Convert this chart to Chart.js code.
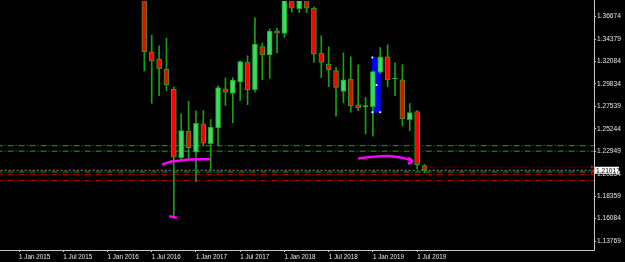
<!DOCTYPE html>
<html>
<head>
<meta charset="utf-8">
<script src="https://cdn.jsdelivr.net/npm/chart.js@4/dist/chart.umd.min.js"></script>
<style>
  html, body { margin: 0; padding: 0; background: #000; }
  canvas { display: block; }
</style>
</head>
<body>
<canvas id="candleChart" width="625" height="262"></canvas>
<script>
// monthly candles, GBPUSD-like
var months = ['2016-06','2016-07','2016-08','2016-09','2016-10','2016-11','2016-12',
  '2017-01','2017-02','2017-03','2017-04','2017-05','2017-06','2017-07','2017-08','2017-09','2017-10','2017-11','2017-12',
  '2018-01','2018-02','2018-03','2018-04','2018-05','2018-06','2018-07','2018-08','2018-09','2018-10','2018-11','2018-12',
  '2019-01','2019-02','2019-03','2019-04','2019-05','2019-06','2019-07','2019-08'];
var opens  = [1.4480,1.3309,1.3235,1.3133,1.2925,1.2229,1.2500,
  1.2285,1.2575,1.2372,1.2534,1.2930,1.2886,1.3001,1.3204,1.2923,1.3363,1.3278,1.3522,
  1.3495,1.4189,1.3749,1.4025,1.3755,1.3295,1.3184,1.3116,1.2906,1.3031,1.2767,1.2750,
  1.2750,1.3100,1.3258,1.3031,1.3024,1.2618,1.2700,1.2148];
var highs  = [1.5018,1.3478,1.3370,1.3448,1.2950,1.2676,1.2804,
  1.2706,1.2710,1.2619,1.2963,1.3042,1.3044,1.3216,1.3268,1.3654,1.3397,1.3542,1.3549,
  1.4345,1.4200,1.4245,1.4377,1.3768,1.3471,1.3360,1.3150,1.3298,1.3258,1.3176,1.2845,
  1.3115,1.3352,1.3380,1.3197,1.3177,1.2781,1.2710,1.2161];
var lows   = [1.3113,1.2784,1.2862,1.2913,1.1634,1.2200,1.2210,
  1.1986,1.2345,1.2101,1.2353,1.2761,1.2585,1.2811,1.2770,1.2896,1.3025,1.3038,1.3296,
  1.3454,1.3715,1.3708,1.3708,1.3200,1.3045,1.2953,1.2652,1.2788,1.2693,1.2709,1.2473,
  1.2449,1.3085,1.2953,1.2862,1.2554,1.2504,1.2118,1.2077];
var closes = [1.3309,1.3214,1.3133,1.2971,1.2236,1.2507,1.2331,
  1.2580,1.2378,1.2541,1.2943,1.2896,1.3021,1.3210,1.2923,1.3387,1.3278,1.3519,1.3498,
  1.4189,1.3752,1.4025,1.3752,1.3285,1.3200,1.3123,1.2946,1.3024,1.2757,1.2737,1.2756,
  1.3106,1.3258,1.3021,1.3040,1.2625,1.2689,1.2158,1.2101];

var xTickLabels = ['1 Jan 2015','1 Jul 2015','1 Jan 2016','1 Jul 2016','1 Jan 2017',
  '1 Jul 2017','1 Jan 2018','1 Jul 2018','1 Jan 2019','1 Jul 2019'];
var yTicks = [1.36674,1.34379,1.32084,1.29834,1.27539,1.25244,1.22949,1.20654,1.18359,1.16084,1.13769];

var bidPrice = 1.21017;
var greenLevels = [1.2352, 1.2296, 1.2084];
var redLevels = [1.2060, 1.1996];
var orderLevel = 1.2134;

// blue rectangle object (month, low, high) and hand drawn magenta marks (month, price)
var boxMonth = 48.47;
var boxRange = [1.2693, 1.3251];
var boxHandles = [[47.93,1.3251],[48.5,1.2971],[49.0,1.2693],[47.93,1.2693]];
var markA = [[19.4,1.2159],[20.4,1.2185],[21.4,1.2195],[23.2,1.2210],[25.9,1.2213]];
var markB = [[46.0,1.2220],[47.6,1.2236],[49.9,1.2246],[51.4,1.2236],[52.4,1.2220],[53.1,1.2206]];
var markArrow = [[52.8,1.2230],[53.3,1.2192],[52.75,1.2167]];
var markC = [[20.35,1.1634],[21.45,1.1617]];

// chart.js keeps a 4px gap left/top, so the ranges are set for that area
var xMin = -2.037, xMax = 77.99;
var yMin = 1.12889, yMax = 1.37859;

function monthIndex(s) {
  var p = s.split('-');
  return (parseInt(p[0]) - 2015) * 12 + (parseInt(p[1]) - 1);
}
function pts(arr) { return arr.map(function (p) { return { x: p[0], y: p[1] }; }); }
function level(v, from) { return [{ x: from, y: v }, { x: xMax, y: v }]; }

var wickData = months.map(function (m, i) { return { x: monthIndex(m), y: [lows[i], highs[i]] }; });
var bodyData = months.map(function (m, i) { return { x: monthIndex(m), y: [opens[i], closes[i]] }; });
var bodyColors = closes.map(function (c, i) { return c >= opens[i] ? '#3cd868' : '#ff0000'; });

var edgeClip = { left: 4, top: 4, right: 0, bottom: 0 };

var datasets = [
  { type: 'bar', data: [{ x: boxMonth, y: boxRange }], backgroundColor: '#0000ff',
    barThickness: 8, grouped: false, order: 9 },
  { type: 'bar', data: wickData, backgroundColor: '#16a016', barThickness: 1, grouped: false,
    clip: edgeClip, order: 5 },
  { type: 'bar', data: bodyData, backgroundColor: bodyColors, borderColor: '#1ea81e', borderWidth: 1,
    borderSkipped: false, barThickness: 5, minBarLength: 1, grouped: false, clip: edgeClip, order: 4 }
];
greenLevels.forEach(function (v) {
  datasets.push({ type: 'line', data: level(v, xMin - 1), borderColor: '#22a022', borderWidth: 1,
    borderDash: [6, 2, 1, 2], pointRadius: 0, clip: edgeClip, order: 8 });
});
redLevels.forEach(function (v) {
  datasets.push({ type: 'line', data: level(v, xMin - 1), borderColor: '#c80000', borderWidth: 1,
    borderDash: [6, 2, 1, 2], pointRadius: 0, clip: edgeClip, order: 8 });
});
datasets.push({ type: 'line', data: level(bidPrice, xMin - 1), borderColor: '#8a8a8a', borderWidth: 1,
  borderDash: [2, 2], pointRadius: 0, clip: edgeClip, order: 7 });
datasets.push({ type: 'line', data: level(orderLevel, 55), borderColor: '#c00000', borderWidth: 1,
  borderDash: [1, 2], pointRadius: 0, order: 7 });
[markA, markB, markArrow, markC].forEach(function (m) {
  datasets.push({ type: 'line', data: pts(m), borderColor: '#ff00ff', borderWidth: 2.5,
    tension: 0.4, pointRadius: 0, order: 1 });
});
datasets.push({ type: 'line', data: pts(boxHandles), showLine: false, pointStyle: 'rect',
  pointRadius: 1.3, backgroundColor: '#ffffff', borderWidth: 0, order: 0 });

var xFont = { family: 'Liberation Sans', size: 6.3 };
var yFont = { family: 'Liberation Sans', size: 6.6 };

var priceTag = {
  id: 'priceTag',
  afterDraw: function (chart) {
    var ctx = chart.ctx, ys = chart.scales.y, area = chart.chartArea;
    var py = ys.getPixelForValue(bidPrice);
    ctx.save();
    // bottom axis line all the way to the left edge
    ctx.strokeStyle = '#c8c8c8';
    ctx.lineWidth = 1;
    ctx.beginPath();
    ctx.moveTo(0, area.bottom + 0.5);
    ctx.lineTo(area.left + 1, area.bottom + 0.5);
    ctx.moveTo(ys.left + 0.5, 0);
    ctx.lineTo(ys.left + 0.5, area.top + 1);
    ctx.stroke();
    // little red arrows on the axis
    ctx.fillStyle = '#e00000';
    [orderLevel, greenLevels[2]].forEach(function (v) {
      var ay = ys.getPixelForValue(v);
      ctx.beginPath();
      ctx.moveTo(ys.left - 3, ay - 2);
      ctx.lineTo(ys.left, ay);
      ctx.lineTo(ys.left - 3, ay + 2);
      ctx.fill();
    });
    ctx.fillStyle = '#ffffff';
    ctx.fillRect(ys.left + 1, py - 3.5, 24, 7);
    ctx.fillStyle = '#000000';
    ctx.font = '6.6px "Liberation Sans"';
    ctx.textBaseline = 'middle';
    ctx.fillText(bidPrice.toFixed(5), ys.left + 2, py + 0.5);
    ctx.restore();
  }
};

new Chart(document.getElementById('candleChart').getContext('2d'), {
  type: 'bar',
  data: { datasets: datasets },
  plugins: [priceTag],
  options: {
    responsive: false,
    animation: false,
    layout: { padding: 0 },
    plugins: { legend: { display: false }, tooltip: { enabled: false } },
    scales: {
      x: {
        type: 'linear', min: xMin, max: xMax, offset: false,
        afterBuildTicks: function (s) { s.ticks = xTickLabels.map(function (l, i) { return { value: i * 6 }; }); },
        afterFit: function (s) { s.height = 12; },
        border: { color: '#c8c8c8', width: 1 },
        grid: { drawOnChartArea: false, offset: false, tickLength: 2, tickColor: '#c8c8c8' },
        ticks: { align: 'start', color: '#e6e6e6', font: xFont, padding: 1, maxRotation: 0,
          autoSkip: false, callback: function (v, i) { return xTickLabels[i]; } }
      },
      y: {
        type: 'linear', position: 'right', min: yMin, max: yMax,
        afterBuildTicks: function (s) { s.ticks = yTicks.map(function (v) { return { value: v }; }); },
        afterFit: function (s) { s.width = 31; },
        border: { color: '#c8c8c8', width: 1 },
        grid: { drawOnChartArea: false, tickLength: 2, tickColor: '#c8c8c8' },
        ticks: { color: '#e6e6e6', font: yFont, padding: 1,
          callback: function (v) { return v.toFixed(5); } }
      }
    }
  }
});
</script>
</body>
</html>
